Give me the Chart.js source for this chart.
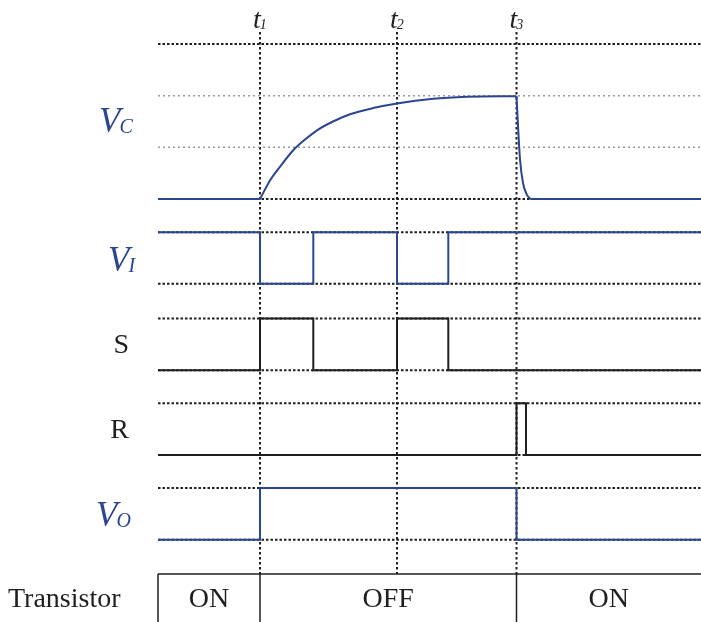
<!DOCTYPE html>
<html>
<head>
<meta charset="utf-8">
<title>Timing diagram</title>
<script src="https://cdn.jsdelivr.net/npm/chart.js@4.4.1/dist/chart.umd.min.js"></script>
<style>
  html, body { margin: 0; padding: 0; background: #fff; }
  #wrap { width: 701px; height: 622px; }
</style>
</head>
<body>
<div id="wrap"><canvas id="c" width="701" height="622"></canvas></div>
<script>
// ---- signal data (time in units, levels in row units) ----
const eventTimes = [1.02, 2.39, 3.585];          // t1, t2, t3
const eventLabels = ['1', '2', '3'];
const timeEnd = 5.43;

// capacitor voltage: charging after t1, discharging at t3
const vcTime  = [0, 1.02, 1.12, 1.25, 1.35, 1.47, 1.59, 1.75, 1.92, 2.15, 2.39, 2.75, 3.09, 3.42, 3.585, 3.60, 3.62, 3.65, 3.69, 3.72, 3.74, 5.43];
const vcValue = [0, 0, 0.36, 0.70, 0.94, 1.15, 1.33, 1.50, 1.64, 1.76, 1.85, 1.94, 1.98, 1.99, 1.99, 1.42, 0.77, 0.31, 0.08, 0.01, 0, 0];

// logic signals: level starting at each time
const viTime  = [0, 1.02, 1.553, 2.39, 2.903, 5.43];
const viLevel = [1, 0, 1, 0, 1, 1];
const sTime   = [0, 1.02, 1.553, 2.39, 2.903, 5.43];
const sLevel  = [0, 1, 0, 1, 0, 0];
const rTime   = [0, 3.585, 3.68, 5.43];
const rLevel  = [0, 1, 0, 0];
const voTime  = [0, 1.02, 3.585, 5.43];
const voLevel = [0, 1, 0, 0];

// transistor state table
const stateBounds = [0, 1.02, 3.585, 5.43];
const stateNames  = ['ON', 'OFF', 'ON'];

// ---- layout of the rows on the shared y scale ----
const rowBase = { VC: 8.18, VI: 6.54, S: 4.87, R: 3.23, VO: 1.59 };
const tableTop = 0.93;
const markerTop = 11.41;

const BLUE = '#2c4590';
const INK = '#1f1f1f';

const pts = (xs, ys, base) => xs.map((x, i) => ({ x: x, y: base + ys[i] }));

const datasets = [];
function signal(xs, ys, base, color, extra) {
  datasets.push(Object.assign({
    data: pts(xs, ys, base), borderColor: color, borderWidth: 2,
    pointRadius: 0, fill: false, stepped: true, clip: false, order: 0
  }, extra || {}));
}
function hline(y, style) {
  datasets.push(Object.assign({
    data: [{ x: 0, y: y }, { x: timeEnd, y: y }],
    borderColor: INK, borderWidth: 2, borderDash: [2.5, 2],
    pointRadius: 0, fill: false, clip: false, order: 5
  }, style || {}));
}
function vline(x, y0, y1, style) {
  datasets.push(Object.assign({
    data: [{ x: x, y: y0 }, { x: x, y: y1 }],
    borderColor: INK, borderWidth: 2, borderDash: [2.5, 2.5],
    pointRadius: 0, fill: false, clip: false, order: 5
  }, style || {}));
}

// grid levels
hline(rowBase.VC + 3);
hline(rowBase.VC + 2, { borderColor: '#9a9a9a', borderWidth: 1.5, borderDash: [2, 3] });
hline(rowBase.VC + 1, { borderColor: '#9a9a9a', borderWidth: 1.5, borderDash: [2, 3] });
hline(rowBase.VC);
['VI', 'S', 'R', 'VO'].forEach(k => { hline(rowBase[k] + 1); hline(rowBase[k]); });

// event markers
eventTimes.forEach(t => vline(t, markerTop, tableTop));

// state table frame
const solid = { borderDash: [], borderWidth: 1.5, order: 1 };
hline(tableTop, solid);
vline(0, tableTop, -0.3, solid);
stateBounds.slice(1, -1).forEach(t => vline(t, tableTop, -0.3, solid));

// capacitor voltage in three pieces so the corners at t1 and t3 stay sharp
const iStart = vcTime.indexOf(eventTimes[0]);
const iFall = vcTime.indexOf(eventTimes[2]);
const vcCurve = { stepped: false, cubicInterpolationMode: 'monotone' };
signal(vcTime.slice(0, iStart + 1), vcValue.slice(0, iStart + 1), rowBase.VC, BLUE, vcCurve);
signal(vcTime.slice(iStart, iFall + 1), vcValue.slice(iStart, iFall + 1), rowBase.VC, BLUE, vcCurve);
signal(vcTime.slice(iFall), vcValue.slice(iFall), rowBase.VC, BLUE, vcCurve);

signal(viTime, viLevel, rowBase.VI, BLUE);
signal(sTime, sLevel, rowBase.S, INK);
signal(rTime, rLevel, rowBase.R, INK);
signal(voTime, voLevel, rowBase.VO, BLUE);

const textPlugin = {
  id: 'diagramText',
  beforeDraw(chart) {
    const ctx = chart.ctx;
    ctx.save();
    ctx.fillStyle = '#fff';
    ctx.fillRect(0, 0, chart.width, chart.height);
    ctx.restore();
  },
  afterDraw(chart) {
    const ctx = chart.ctx;
    const xs = chart.scales.x, ys = chart.scales.y;
    ctx.save();
    ctx.textBaseline = 'alphabetic';

    // t1, t2, t3
    eventTimes.forEach((t, i) => {
      const px = xs.getPixelForValue(t);
      ctx.fillStyle = INK;
      ctx.textAlign = 'left';
      ctx.font = 'italic 28px "Liberation Serif"';
      ctx.fillText('t', px - 7, 28);
      const w = ctx.measureText('t').width;
      ctx.font = 'italic 14px "Liberation Serif"';
      ctx.fillText(eventLabels[i], px - 7 + w - 1, 29);
    });

    // signal names
    function sub(main, subTxt, x, y, color) {
      ctx.fillStyle = color;
      ctx.textAlign = 'left';
      ctx.font = 'italic 35px "Liberation Serif"';
      ctx.fillText(main, x, y);
      const w = ctx.measureText(main).width;
      ctx.font = 'italic 20px "Liberation Serif"';
      ctx.fillText(subTxt, x + w - 1, y + 1);
    }
    const mid = k => ys.getPixelForValue(rowBase[k] + 0.5);
    sub('V', 'C', 99, ys.getPixelForValue(rowBase.VC + 1.5) + 10, BLUE);
    sub('V', 'I', 108, mid('VI') + 13, BLUE);
    sub('V', 'O', 96, mid('VO') + 12, BLUE);

    ctx.fillStyle = INK;
    ctx.textAlign = 'right';
    ctx.font = '28px "Liberation Serif"';
    ctx.fillText('S', 129, mid('S') + 9);
    ctx.fillText('R', 129, mid('R') + 9);

    // transistor state row
    const rowY = 607;
    ctx.font = '28px "Liberation Serif"';
    ctx.textAlign = 'left';
    ctx.fillText('Transistor', 8, rowY);
    ctx.textAlign = 'center';
    stateNames.forEach((name, i) => {
      const cx = (xs.getPixelForValue(stateBounds[i]) + xs.getPixelForValue(stateBounds[i + 1])) / 2;
      ctx.fillText(name, cx, rowY);
    });
    ctx.restore();
  }
};

new Chart(document.getElementById('c'), {
  type: 'line',
  data: { datasets: datasets },
  options: {
    responsive: false,
    animation: false,
    events: [],
    layout: { padding: 0 },
    plugins: { legend: { display: false }, tooltip: { enabled: false } },
    scales: {
      x: { type: 'linear', min: -1.58, max: timeEnd, display: false },
      y: { type: 'linear', min: 0, max: 12.03, display: false }
    }
  },
  plugins: [textPlugin]
});
</script>
</body>
</html>
